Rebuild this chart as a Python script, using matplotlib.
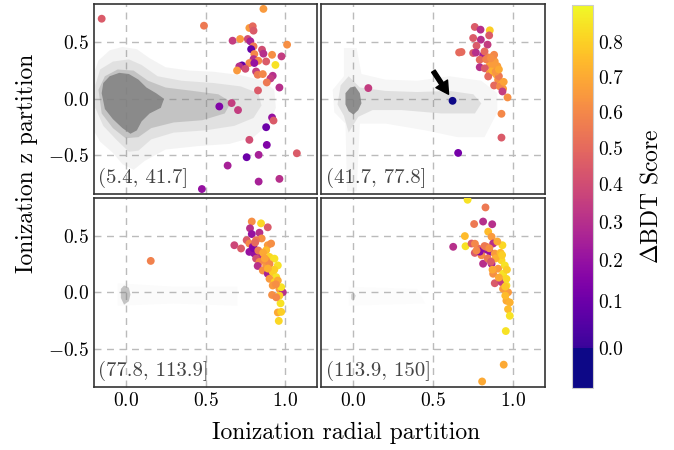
import numpy as np
import matplotlib
matplotlib.use('Agg')
import matplotlib.pyplot as plt
from matplotlib import colors, cm

plt.rcParams['font.family'] = 'serif'
plt.rcParams['font.serif'] = ['cmr10']
plt.rcParams['mathtext.fontset'] = 'cm'
plt.rcParams['axes.formatter.use_mathtext'] = True

# energy bins shown in each panel
bins = ['(5.4, 41.7]', '(41.7, 77.8]', '(77.8, 113.9]', '(113.9, 150]']

# colored points (radial partition, z partition, delta BDT score)
p1_x = [-0.15, 0.49, 0.862, 0.774, 0.795, 0.80, 0.669, 0.716, 0.764, 0.78, 1.01, 0.80, 0.785, 0.853,
        0.862, 0.916, 0.975, 0.805, 0.80, 0.83, 0.879, 0.774, 0.805, 0.937, 0.728, 0.711, 0.749, 0.697,
        0.816, 0.826, 0.858, 0.92, 0.906, 0.883, 0.962, 0.828, 0.586, 0.663, 0.703, 0.916, 0.925, 0.879,
        0.774, 0.883, 1.071, 0.832, 0.757, 0.638, 0.962, 0.832, 0.477]
p1_y = [0.71, 0.648, 0.797, 0.628, 0.643, 0.604, 0.515, 0.53, 0.53, 0.51, 0.48, 0.465, 0.44, 0.435,
        0.40, 0.39, 0.376, 0.397, 0.352, 0.337, 0.331, 0.317, 0.317, 0.30, 0.296, 0.287, 0.266, 0.251,
        0.242, 0.213, 0.219, 0.204, 0.18, 0.145, 0.10, 0.074, -0.068, -0.038, -0.10, -0.166, -0.193, -0.252,
        -0.364, -0.409, -0.483, -0.497, -0.518, -0.592, -0.71, -0.734, -0.80]
p1_c = [0.45, 0.55, 0.65, 0.65, 0.5, 0.45, 0.35, 0.65, 0.4, 0.25, 0.62, 0.55, 0.08, 0.4,
        0.3, 0.62, 0.35, 0.6, 0.3, 0.6, 0.45, 0.6, 0.2, 0.85, 0.08, 0.3, 0.4, 0.65,
        0.35, 0.55, 0.6, 0.3, 0.35, 0.55, 0.3, 0.45, 0.15, 0.35, 0.35, 0.2, 0.45, 0.1,
        0.4, 0.15, 0.45, 0.25, 0.1, 0.25, 0.3, 0.25, 0.2]

p2_x = [0.093, 0.62, 0.655, 0.926, 0.926, 0.964, 0.759, 0.795, 0.853, 0.849, 0.749, 0.797, 0.77, 0.839,
        0.676, 0.661, 0.749, 0.766, 0.811, 0.79, 0.843, 0.874, 0.884, 0.853, 0.79, 0.822, 0.895, 0.853,
        0.895, 0.843, 0.905, 0.88, 0.926, 0.936, 0.916, 0.86, 0.87, 0.90, 0.83, 0.88, 0.91, 0.82,
        0.94, 0.932, 0.87, 0.89, 0.86, 0.91]
p2_y = [0.095, -0.018, -0.48, -0.133, -0.344, 0.012, 0.637, 0.613, 0.607, 0.562, 0.539, 0.524, 0.47, 0.48,
        0.415, 0.411, 0.406, 0.41, 0.385, 0.346, 0.367, 0.376, 0.331, 0.30, 0.28, 0.27, 0.27, 0.228,
        0.213, 0.198, 0.169, 0.118, 0.124, 0.089, 0.11, 0.33, 0.25, 0.29, 0.35, 0.39, 0.2, 0.42,
        0.15, 0.065, 0.31, 0.24, 0.36, 0.26]
p2_c = [0.35, -0.05, 0.12, 0.6, 0.45, 0.62, 0.45, 0.3, 0.8, 0.45, 0.45, 0.3, 0.45, 0.35,
        0.5, 0.5, 0.45, 0.3, 0.25, 0.5, 0.6, 0.65, 0.65, 0.65, 0.3, 0.45, 0.68, 0.65,
        0.7, 0.5, 0.62, 0.5, 0.75, 0.65, 0.6, 0.7, 0.72, 0.66, 0.58, 0.6, 0.55, 0.5,
        0.68, 0.35, 0.66, 0.64, 0.62, 0.7]

p3_x = [0.157, 0.789, 0.847, 0.889, 0.778, 0.837, 0.789, 0.851, 0.757, 0.816, 0.68, 0.722, 0.774, 0.795,
        0.816, 0.774, 0.805, 0.889, 0.91, 0.879, 0.847, 0.9, 0.931, 0.816, 0.837, 0.826, 0.879, 0.952,
        0.858, 0.889, 0.92, 0.942, 0.9, 0.931, 0.952, 0.92, 0.962, 0.983, 0.916, 0.962, 0.969, 0.952,
        0.973, 0.958, 0.973, 0.942, 0.879, 0.80, 0.83, 0.86, 0.90, 0.93, 0.87, 0.94, 0.81, 0.89]
p3_y = [0.278, 0.627, 0.611, 0.576, 0.567, 0.528, 0.516, 0.477, 0.462, 0.462, 0.417, 0.388, 0.432, 0.403,
        0.372, 0.358, 0.343, 0.417, 0.432, 0.372, 0.328, 0.313, 0.298, 0.298, 0.269, 0.233, 0.238, 0.238,
        0.193, 0.164, 0.179, 0.134, 0.119, 0.09, 0.104, 0.06, 0.03, 0.0, -0.024, -0.03, -0.098, -0.179,
        -0.174, -0.254, 0.045, -0.045, 0.283, 0.39, 0.37, 0.35, 0.25, 0.2, 0.3, 0.07, 0.44, 0.21]
p3_c = [0.58, 0.62, 0.82, 0.45, 0.3, 0.3, 0.2, 0.62, 0.45, 0.55, 0.38, 0.45, 0.6, 0.2,
        0.18, 0.2, 0.2, 0.65, 0.62, 0.75, 0.3, 0.82, 0.85, 0.4, 0.6, 0.3, 0.65, 0.85,
        0.62, 0.25, 0.8, 0.85, 0.65, 0.8, 0.7, 0.65, 0.65, 0.3, 0.62, 0.8, 0.85, 0.7,
        0.8, 0.82, 0.85, 0.6, 0.62, 0.15, 0.55, 0.7, 0.6, 0.8, 0.68, 0.62, 0.5, 0.72]

p4_x = [0.714, 0.826, 0.755, 0.811, 0.868, 0.697, 0.624, 0.701, 0.739, 0.843, 0.864, 0.932, 0.953, 0.94,
        0.805, 0.78, 0.811, 0.832, 0.874, 0.759, 0.801, 0.853, 0.884, 0.811, 0.864, 0.926, 0.947, 0.905,
        0.874, 0.936, 0.884, 0.926, 0.957, 0.957, 0.936, 0.967, 0.957, 0.978, 0.967, 0.978, 0.76, 0.9,
        0.92, 0.87, 0.84, 0.96, 0.95, 0.79, 0.82, 0.85, 0.89, 0.93, 0.86, 0.91, 0.77, 0.95]
p4_y = [0.82, 0.752, 0.605, 0.627, 0.603, 0.498, 0.403, 0.408, 0.432, 0.537, 0.492, 0.417, -0.344, -0.642,
        -0.791, 0.388, 0.372, 0.403, 0.432, 0.349, 0.328, 0.358, 0.343, 0.253, 0.253, 0.283, 0.238, 0.209,
        0.164, 0.164, 0.08, 0.09, 0.119, 0.06, 0.03, 0.0, -0.075, -0.09, -0.15, -0.209, 0.43, 0.45,
        0.35, 0.2, 0.3, 0.2, 0.05, 0.36, 0.41, 0.39, 0.3, 0.33, 0.27, 0.13, 0.37, -0.03]
p4_c = [0.85, 0.55, 0.55, 0.3, 0.3, 0.75, 0.3, 0.85, 0.45, 0.75, 0.65, 0.82, 0.85, 0.7,
        0.7, 0.5, 0.22, 0.6, 0.3, 0.45, 0.6, 0.2, 0.65, 0.3, 0.25, 0.82, 0.85, 0.65,
        0.62, 0.85, 0.45, 0.35, 0.82, 0.85, 0.65, 0.65, 0.7, 0.72, 0.75, 0.85, 0.6, 0.7,
        0.75, 0.7, 0.55, 0.8, 0.78, 0.18, 0.55, 0.62, 0.72, 0.8, 0.45, 0.7, 0.6, 0.75]

# gray background cloud outlines: (alpha, [(x, y), ...])
cloud1 = [
    (0.09, [(-0.2, 0.22), (-0.17, 0.34), (-0.1, 0.43), (-0.02, 0.46), (0.07, 0.44), (0.15, 0.36), (0.25, 0.28),
            (0.4, 0.25), (0.55, 0.24), (0.72, 0.21), (0.86, 0.16), (0.93, 0.08), (0.94, -0.08), (0.9, -0.22),
            (0.8, -0.34), (0.65, -0.4), (0.45, -0.42), (0.25, -0.45), (0.12, -0.55), (0.05, -0.63),
            (-0.02, -0.58), (-0.08, -0.48), (-0.16, -0.38), (-0.2, -0.28)]),
    (0.15, [(-0.19, 0.12), (-0.16, 0.26), (-0.08, 0.33), (0.02, 0.35), (0.1, 0.3), (0.2, 0.2), (0.35, 0.16),
            (0.55, 0.14), (0.72, 0.11), (0.83, 0.05), (0.85, -0.06), (0.8, -0.17), (0.68, -0.24), (0.5, -0.28),
            (0.3, -0.3), (0.16, -0.36), (0.08, -0.46), (0.02, -0.47), (-0.06, -0.36), (-0.14, -0.24),
            (-0.19, -0.08)]),
    (0.3, [(-0.17, 0.08), (-0.13, 0.2), (-0.05, 0.26), (0.05, 0.25), (0.14, 0.16), (0.25, 0.1), (0.42, 0.07),
           (0.58, 0.04), (0.66, -0.03), (0.62, -0.13), (0.48, -0.19), (0.3, -0.21), (0.16, -0.26),
           (0.08, -0.34), (0.0, -0.35), (-0.08, -0.26), (-0.15, -0.13)]),
    (0.85, [(-0.15, 0.05), (-0.14, 0.14), (-0.1, 0.2), (-0.04, 0.23), (0.02, 0.22), (0.08, 0.17), (0.13, 0.1),
            (0.19, 0.05), (0.24, 0.0), (0.22, -0.08), (0.15, -0.13), (0.1, -0.2), (0.07, -0.28), (0.03, -0.31),
            (-0.02, -0.26), (-0.08, -0.18), (-0.13, -0.09)]),
]
cloud2 = [
    (0.07, [(-0.06, 0.45), (0.02, 0.45), (0.05, 0.22), (0.2, 0.17), (0.4, 0.16), (0.6, 0.2), (0.8, 0.16),
            (0.9, 0.05), (0.9, -0.12), (0.82, -0.34), (0.65, -0.34), (0.45, -0.28), (0.2, -0.22), (0.04, -0.22),
            (0.02, -0.82), (-0.04, -0.82), (-0.05, -0.22), (-0.12, -0.12), (-0.13, 0.08), (-0.06, 0.2)]),
    (0.18, [(-0.08, 0.12), (-0.03, 0.2), (0.04, 0.1), (0.2, 0.07), (0.4, 0.06), (0.6, 0.07), (0.75, 0.04),
            (0.8, -0.04), (0.76, -0.13), (0.55, -0.13), (0.3, -0.1), (0.12, -0.1), (0.03, -0.16), (-0.03, -0.3),
            (-0.06, -0.15), (-0.1, -0.05)]),
    (0.85, [(-0.05, 0.05), (-0.02, 0.1), (0.01, 0.11), (0.04, 0.05), (0.05, -0.04), (0.03, -0.1),
            (0.0, -0.14), (-0.03, -0.11), (-0.05, -0.05)]),
]
cloud3 = [
    (0.03, [(-0.05, 0.08), (0.3, 0.05), (0.7, 0.05), (0.7, -0.12), (0.3, -0.1), (-0.05, -0.12)]),
    (0.45, [(-0.03, 0.03), (-0.01, 0.06), (0.02, 0.04), (0.03, -0.02), (0.02, -0.08), (-0.01, -0.11),
            (-0.03, -0.05)]),
]
cloud4 = [
    (0.02, [(-0.03, 0.05), (0.4, 0.03), (0.45, -0.1), (-0.03, -0.12)]),
    (0.3, [(-0.015, -0.02), (0.0, 0.0), (0.015, -0.03), (0.0, -0.08), (-0.015, -0.06)]),
]

points = [(p1_x, p1_y, p1_c), (p2_x, p2_y, p2_c), (p3_x, p3_y, p3_c), (p4_x, p4_y, p4_c)]
clouds = [cloud1, cloud2, cloud3, cloud4]

# colour scale: flat navy below zero, stretched plasma above
CB_MIN, CB_MAX = -0.1, 0.91
NEG_FRAC = 0.104
GAMMA = 0.9

def fwd(v):
    v = np.asarray(v, dtype=float)
    pos = NEG_FRAC + (1 - NEG_FRAC) * (np.clip(v, 0, None) / CB_MAX) ** GAMMA
    neg = NEG_FRAC * (v - CB_MIN) / (0 - CB_MIN)
    return np.where(v < 0, neg, pos)

def inv(t):
    t = np.asarray(t, dtype=float)
    pos = CB_MAX * (np.clip(t - NEG_FRAC, 0, None) / (1 - NEG_FRAC)) ** (1 / GAMMA)
    neg = CB_MIN + (t / NEG_FRAC) * (0 - CB_MIN)
    return np.where(t < NEG_FRAC, neg, pos)

norm = colors.FuncNorm((fwd, inv), vmin=CB_MIN, vmax=CB_MAX)
t = np.linspace(0, 1, 256)
plasma = plt.get_cmap('plasma')
cols = [plasma(0.0) if ti < NEG_FRAC else plasma(0.08 + 0.92 * (ti - NEG_FRAC) / (1 - NEG_FRAC)) for ti in t]
cmap = colors.ListedColormap(cols)

fig = plt.figure(figsize=(6.74, 4.5), dpi=100)
gs = fig.add_gridspec(2, 2, left=0.139, right=0.809, top=0.991, bottom=0.14, wspace=0.018, hspace=0.021)

for i in range(4):
    ax = fig.add_subplot(gs[i // 2, i % 2])
    for alpha, poly in clouds[i]:
        xs = [p[0] for p in poly]
        ys = [p[1] for p in poly]
        ax.fill(xs, ys, color='#808080', alpha=alpha, lw=0, zorder=1)
    x, y, c = points[i]
    ax.scatter(x, y, c=c, cmap=cmap, norm=norm, s=32, edgecolors='none', zorder=3)
    ax.set_xlim(-0.2, 1.2)
    ax.set_ylim(-0.84, 0.84)
    ax.set_xticks([0, 0.5, 1.0])
    ax.set_yticks([-0.5, 0, 0.5])
    ax.grid(True, ls=(0, (5, 4)), color='#bbbbbb', lw=1, zorder=0)
    ax.set_axisbelow(True)
    ax.tick_params(direction='in', length=3, color='#bbbbbb', labelsize=14)
    if i % 2 == 1:
        ax.set_yticklabels([])
    if i // 2 == 0:
        ax.set_xticklabels([])
    for sp in ax.spines.values():
        sp.set_color('#333333')
        sp.set_linewidth(1.2)
    ax.text(0.02, 0.03, bins[i], transform=ax.transAxes, fontsize=15, color='#444444', ha='left', va='bottom')
    if i == 1:
        ax.annotate('', xy=(0.595, 0.04), xytext=(0.5, 0.245),
                    arrowprops=dict(facecolor='black', edgecolor='black', width=3, headwidth=10, headlength=9),
                    zorder=4)

cax = fig.add_axes([0.849, 0.138, 0.031, 0.851])
cbar = fig.colorbar(cm.ScalarMappable(norm=norm, cmap=cmap), cax=cax)
cbar.set_ticks([0.0, 0.1, 0.2, 0.3, 0.4, 0.5, 0.6, 0.7, 0.8])
cbar.set_ticklabels(['0.0', '0.1', '0.2', '0.3', '0.4', '0.5', '0.6', '0.7', '0.8'])
cbar.minorticks_off()
cax.tick_params(length=0, labelsize=14, pad=4)
cbar.outline.set_edgecolor('#cccccc')
cbar.set_label(r'$\Delta$BDT Score', fontsize=17, labelpad=12)

fig.text(0.513, 0.037, 'Ionization radial partition', fontsize=17, ha='center', va='center')
fig.text(0.04, 0.638, 'Ionization z partition', fontsize=17, ha='center', va='center', rotation=90)

fig.savefig('out.png', dpi=100)
